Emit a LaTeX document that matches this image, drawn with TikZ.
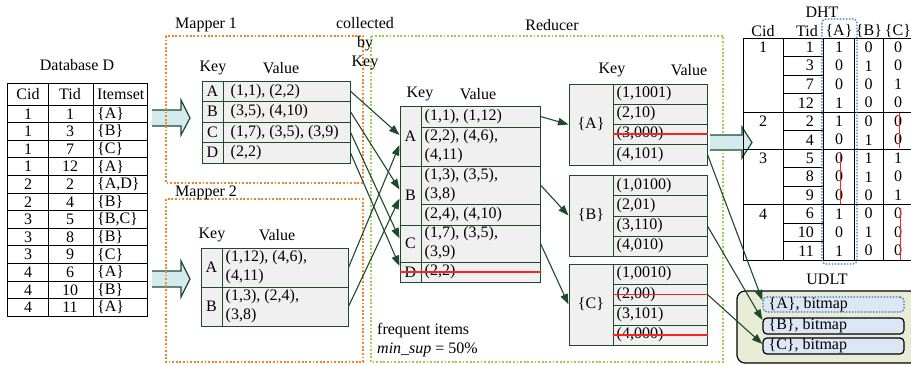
\documentclass[tikz,border=0pt]{standalone}
\usepackage{fontspec}
\setmainfont{Liberation Serif}
\usetikzlibrary{arrows.meta,fit,calc}
\definecolor{tabgreen}{HTML}{1D4A2A}
\definecolor{cellgray}{HTML}{F0F0F0}
\definecolor{maporange}{HTML}{F0852A}
\definecolor{redgreen}{HTML}{9ACD50}
\definecolor{arrowcyan}{HTML}{D3EAEE}
\definecolor{strikered}{HTML}{FF2020}
\definecolor{udltfill}{HTML}{E8ECD7}
\definecolor{bitfill}{HTML}{DCE6F4}
\definecolor{dotblue}{HTML}{2F6FBF}

% a filled table cell spanning two corner points
\newcommand\kvcell[5]{\node[cellbox,fit={(#2,#3) (#4,#5)}] (#1) {};}
% cell with centred text
\newcommand\ccell[6]{\kvcell{#1}{#2}{#3}{#4}{#5}\node[txt] (#1-t) at (#1.center) {#6};}
% cell with left-aligned text
\newcommand\lcell[7]{\kvcell{#1}{#2}{#3}{#4}{#5}\node[txt,anchor=west] (#1-t) at ([xshift=#6pt]#1.west) {#7};}

\begin{document}
\begin{tikzpicture}[x=1pt,y=-1pt,font=\fontsize{16}{19}\selectfont,
  cellbox/.style={draw=tabgreen,fill=cellgray,line width=1pt,inner sep=0pt},
  txt/.style={inner sep=0pt,align=left},
  flow/.style={draw=tabgreen,line width=1.1pt,-{Triangle[length=10.5pt,width=7.5pt]}},
  mapbox/.style={draw=maporange,line width=1.2pt,dash pattern=on 1.8pt off 1.8pt},
  redbox/.style={draw=redgreen,line width=1.2pt,dash pattern=on 1.8pt off 1.8pt},
  strike/.style={draw=strikered,line width=1.6pt},
  bigarrow/.style={draw=tabgreen,line width=1.2pt},
  dbline/.style={draw=black,line width=0.9pt},
]
\useasboundingbox (0,0) rectangle (911,365);

% ---------- Database D ----------
\node[txt] (db-title) at (77,65) {Database D};
\draw[dbline] (7,83) rectangle (147,316);
\draw[dbline] (48,83) -- (48,316) (93,83) -- (93,316);
\foreach \k in {0,...,11} \draw[dbline] (7,105+17.6*\k) -- (147,105+17.6*\k);
\node[txt] (db-hc) at (28,94) {Cid};
\node[txt] (db-ht) at (70,94) {Tid};
\node[txt,anchor=west] (db-hi) at (97,94) {Itemset};
\foreach \c/\t/\s [count=\i] in {1/1/{\{A\}},1/3/{\{B\}},1/7/{\{C\}},1/12/{\{A\}},
    2/2/{\{A,D\}},2/4/{\{B\}},3/5/{\{B,C\}},3/8/{\{B\}},3/9/{\{C\}},
    4/6/{\{A\}},4/10/{\{B\}},4/11/{\{A\}}}{
  \node[txt] (db-c\i) at (28,96.2+17.6*\i) {\c};
  \node[txt] (db-t\i) at (70,96.2+17.6*\i) {\t};
  \node[txt,anchor=west] (db-s\i) at (97,96.2+17.6*\i) {\s};
}

% ---------- input arrows ----------
\fill[arrowcyan] (152,110) -- (181,110) -- (181,100) -- (190,118) -- (181,135) -- (181,126) -- (152,126) -- cycle;
\draw[bigarrow] (152,110) -- (181,110) -- (181,100) -- (190,118) -- (181,135) -- (181,126) -- (152,126);
\fill[arrowcyan] (152,271) -- (181,271) -- (181,261) -- (190,279) -- (181,297) -- (181,287) -- (152,287) -- cycle;
\draw[bigarrow] (152,271) -- (181,271) -- (181,261) -- (190,279) -- (181,297) -- (181,287) -- (152,287);

% ---------- phase frames ----------
\draw[mapbox] (166,36) rectangle (363,183);
\draw[mapbox] (166,199) rectangle (363,362);
\draw[redbox] (371,36) rectangle (723,362);
\node[txt,anchor=west] (map1-title) at (175,25) {Mapper 1};
\node[txt,anchor=west] (map2-title) at (175,193) {Mapper 2};
\node[inner sep=0pt,align=center] (collect) at (365,44) {collected\\by\\Key};
\node[txt] (red-title) at (552,25) {Reducer};

% ---------- Mapper 1 ----------
\node[txt] (m1-hk) at (213,68) {Key};
\node[txt] (m1-hv) at (281,68) {Value};
\ccell{m1k1}{202}{81}{223}{101.5}{A}
\lcell{m1v1}{223}{81}{350}{101.5}{8}{(1,1), (2,2)}
\ccell{m1k2}{202}{101.5}{223}{122}{B}
\lcell{m1v2}{223}{101.5}{350}{122}{8}{(3,5), (4,10)}
\ccell{m1k3}{202}{122}{223}{142.5}{C}
\lcell{m1v3}{223}{122}{350}{142.5}{8}{(1,7), (3,5), (3,9)}
\ccell{m1k4}{202}{142.5}{223}{163}{D}
\lcell{m1v4}{223}{142.5}{350}{163}{8}{(2,2)}

% ---------- Mapper 2 ----------
\node[txt] (m2-hk) at (212,235) {Key};
\node[txt] (m2-hv) at (277,235) {Value};
\ccell{m2k1}{201}{248}{222}{287}{A}
\lcell{m2v1}{222}{248}{348}{287}{4}{(1,12), (4,6),\\(4,11)}
\ccell{m2k2}{201}{287}{222}{326}{B}
\lcell{m2v2}{222}{287}{348}{326}{4}{(1,3), (2,4),\\(3,8)}

% ---------- Reducer: grouped pairs ----------
\node[txt] (r-hk) at (420,94) {Key};
\node[txt] (r-hv) at (478,94) {Value};
\ccell{rk1}{400}{106}{421}{166}{A}
\lcell{rv1a}{421}{106}{540}{127}{4}{(1,1), (1,12)}
\lcell{rv1b}{421}{127}{540}{166}{4}{(2,2), (4,6),\\(4,11)}
\ccell{rk2}{400}{166}{421}{225}{B}
\lcell{rv2a}{421}{166}{540}{204}{4}{(1,3), (3,5),\\(3,8)}
\lcell{rv2b}{421}{204}{540}{225}{4}{(2,4), (4,10)}
\ccell{rk3}{400}{225}{421}{262}{C}
\lcell{rv3}{421}{225}{540}{262}{4}{(1,7), (3,5),\\(3,9)}
\ccell{rk4}{400}{262}{421}{282}{D}
\lcell{rv4}{421}{262}{540}{282}{4}{(2,2)}
\draw[strike] (rk4.west) -- (rv4.east);

\node[txt,anchor=west] (freq) at (377,331) {frequent items};
\node[txt,anchor=west] (minsup) at (377,350) {\textit{min\_sup} = 50\%};

% ---------- Reducer: bitmaps per item ----------
\node[txt] (s-hk) at (612,70) {Key};
\node[txt] (s-hv) at (689,70) {Value};
\ccell{sAk}{569}{84}{613}{165}{\{A\}}
\lcell{sA1}{613}{84}{707}{104}{4}{(1,1001)}
\lcell{sA2}{613}{104}{707}{124}{4}{(2,10)}
\lcell{sA3}{613}{124}{707}{144}{4}{(3,000)}
\lcell{sA4}{613}{144}{707}{165}{4}{(4,101)}
\ccell{sBk}{569}{175}{613}{256}{\{B\}}
\lcell{sB1}{613}{175}{707}{195.5}{4}{(1,0100)}
\lcell{sB2}{613}{195.5}{707}{216}{4}{(2,01)}
\lcell{sB3}{613}{216}{707}{236}{4}{(3,110)}
\lcell{sB4}{613}{236}{707}{256}{4}{(4,010)}
\ccell{sCk}{569}{264}{613}{345}{\{C\}}
\lcell{sC1}{613}{264}{707}{284}{4}{(1,0010)}
\lcell{sC2}{613}{284}{707}{305}{4}{(2,00)}
\lcell{sC3}{613}{305}{707}{325}{4}{(3,101)}
\lcell{sC4}{613}{325}{707}{345}{4}{(4,000)}
\draw[strike] (sA3.west) -- (sA3.east);
\draw[strike] (sC2.west) -- (sC2.east);
\draw[strike] (sC4.west) -- (sC4.east);

% ---------- shuffle: mapper output to reducer keys ----------
\draw[flow] (m1v1.east) -- ([yshift=1pt]rk1.west);
\draw[flow] (m1v2.east) -- ([yshift=6pt]rk2.west);
\draw[flow] (m1v3.east) -- ([yshift=5pt]rk3.west);
\draw[flow] (m1v4.east) -- ([yshift=6pt]rk4.west);
\draw[flow] (m2v1.east) -- ([yshift=-9pt]rk1.west);
\draw[flow] (m2v2.east) -- ([yshift=-3pt]rk2.west);

\draw[flow] (rv1a.east) -- (sAk.west);
\draw[flow] (rv2a.east) -- (sBk.west);
\draw[flow] (rv3.east) -- (sCk.west);

% ---------- output arrow to DHT ----------
\fill[arrowcyan] (710,135) -- (742,135) -- (742,127) -- (752,142.5) -- (742,158) -- (742,150) -- (710,150) -- cycle;
\draw[bigarrow] (710,135) -- (742,135) -- (742,127) -- (752,142.5) -- (742,158) -- (742,150) -- (710,150);

% ---------- DHT ----------
\node[txt] (dht-title) at (822,12) {DHT};
\node[txt] (dht-hc) at (763,31) {Cid};
\node[txt] (dht-ht) at (807,31) {Tid};
\node[txt] (dht-ha) at (839,31) {\{A\}};
\node[txt] (dht-hb) at (869,31) {\{B\}};
\node[txt] (dht-hcc) at (898,31) {\{C\}};
\foreach \y in {38,112,149,204.5,260} \draw[dbline] (743,\y) -- (912,\y);
\foreach \y in {56.5,75,93.5,130.5,167.5,186,223,241.5} \draw[dbline] (783,\y) -- (823,\y);
\foreach \x in {743,783,823,854,883} \draw[dbline] (\x,38) -- (\x,260);
\foreach \t/\a/\b/\c [count=\i] in {1/1/0/0,3/0/1/0,7/0/0/1,12/1/0/0,2/1/0/0,4/0/1/0,
    5/0/1/1,8/0/1/0,9/0/0/1,6/1/0/0,10/0/1/0,11/1/0/0}{
  \node[txt,anchor=east] (dht-t\i) at (814,28.75+18.5*\i) {\t};
  \node[txt] (dht-a\i) at (839,28.75+18.5*\i) {\a};
  \node[txt] (dht-b\i) at (868.5,28.75+18.5*\i) {\b};
  \node[txt] (dht-c\i) at (898,28.75+18.5*\i) {\c};
}
\foreach \r/\c in {1/1,5/2,7/3,10/4} \node[txt] (dht-cid\c) at (763,28.75+18.5*\r) {\c};
\draw[strike] (899.5,113) -- (899.5,148);
\draw[strike] (840.5,152) -- (840.5,204);
\draw[strike] (900.5,208) -- (900.5,260);
\draw[draw=dotblue,line width=1.2pt,dash pattern=on 1.5pt off 1.5pt,rounded corners=4pt] (822,19) rectangle (857,264);

% ---------- UDLT ----------
\node[txt] (udlt-title) at (827,279) {UDLT};
\node[draw=black,fill=udltfill,line width=1.2pt,rounded corners=8pt,inner sep=0pt,fit={(737,291) (918,363)}] (udlt) {};
\node[draw=dotblue,fill=bitfill,line width=1.2pt,dash pattern=on 1.5pt off 1.5pt,rounded corners=4pt,inner sep=0pt,fit={(763,297) (904,312)}] (udA) {};
\node[txt,anchor=west] (udA-t) at ([xshift=6pt]udA.west) {\{A\}, bitmap};
\node[draw=black,fill=bitfill,line width=1.2pt,rounded corners=4pt,inner sep=0pt,fit={(763,318) (904,334)}] (udB) {};
\node[txt,anchor=west] (udB-t) at ([xshift=6pt]udB.west) {\{B\}, bitmap};
\node[draw=black,fill=bitfill,line width=1.2pt,rounded corners=4pt,inner sep=0pt,fit={(763,338) (904,354)}] (udC) {};
\node[txt,anchor=west] (udC-t) at ([xshift=6pt]udC.west) {\{C\}, bitmap};

\draw[flow] (sA4.east) -- ([yshift=4pt]udA.west);
\draw[flow] (sB3.east) -- ([yshift=6pt]udB.west);
\draw[flow] (sC2.east) -- ([yshift=2pt]udC.west);
\end{tikzpicture}
\end{document}
